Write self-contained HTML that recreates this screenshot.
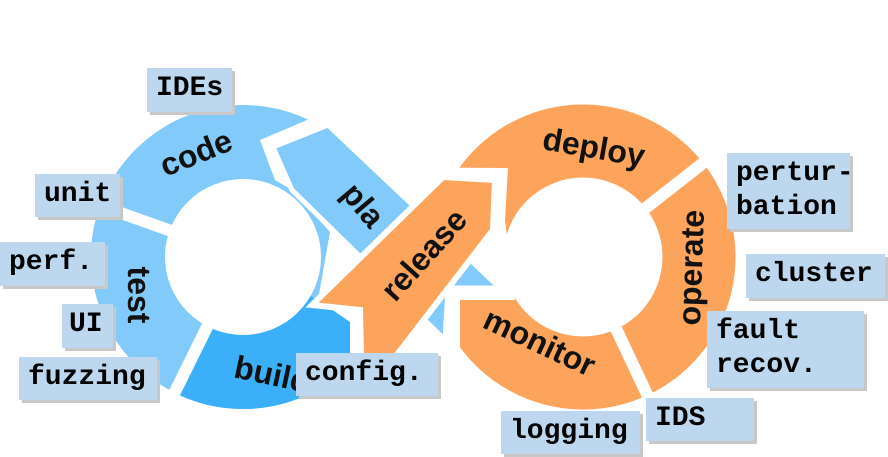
<!DOCTYPE html>
<html><head><style>
body{margin:0;width:888px;height:457px;background:#fff;position:relative;overflow:hidden}
svg{position:absolute;left:0;top:0}
.l{position:absolute;background:#bdd7ee;box-shadow:3px 3px 0 #c8c8c8;font-family:"Liberation Mono",monospace;font-weight:bold;font-size:28px;color:#000;line-height:34px;padding:4px 9px;box-sizing:border-box;white-space:nowrap}
</style></head><body>
<svg width="888" height="457" viewBox="0 0 888 457">
<defs>
<clipPath id="cl"><polygon points="0,0 340,0 340,106 260,140 275,180 292,190 330,232 318,300 350,322 350,457 0,457"/></clipPath>
<clipPath id="cr"><polygon points="0,0 888,0 888,457 460,457 460,300 515,300 505,220 508,168 0,165"/></clipPath>
</defs>
<g fill="none" clip-path="url(#cl)">
<circle cx="243" cy="257" r="115" stroke="#82cafa" stroke-width="74"/>
<path d="M342.6,314.5 A115,115 0 0 1 190.8,359.5" stroke="#3bb0f8" stroke-width="74"/>
<line x1="177" y1="233" x2="90" y2="202" stroke="#fff" stroke-width="12"/>
<line x1="211" y1="319" x2="170" y2="402" stroke="#fff" stroke-width="12"/>
</g>
<polygon points="273,147 328,125 500,288 448,288 445,340 292,190" fill="#82cafa" stroke="#fff" stroke-width="5"/>
<g fill="none" clip-path="url(#cr)">
<circle cx="583" cy="257" r="116" stroke="#fca35c" stroke-width="73"/>
<line x1="638" y1="214" x2="712" y2="156" stroke="#fff" stroke-width="12"/>
<line x1="612" y1="320" x2="652" y2="405" stroke="#fff" stroke-width="12"/>
</g>
<polygon points="312,305 360,310 362,400 493,230 495,180 443,177" fill="#fca35c" stroke="#fff" stroke-width="6"/>
<g font-family="Liberation Sans,sans-serif" font-weight="bold" font-size="32" fill="#111" text-anchor="middle">
<text transform="translate(200,163) rotate(-22)">code</text>
<text transform="translate(128,295) rotate(90)">test</text>
<text transform="translate(270,385) rotate(12)">build</text>
<text transform="translate(355,212) rotate(50)">pla</text>
<text transform="translate(432,262) rotate(-48)">release</text>
<text transform="translate(592,158) rotate(10)">deploy</text>
<text transform="translate(702,268) rotate(-88)">operate</text>
<text transform="translate(535,352) rotate(25)">monitor</text>
</g>
</svg>
<div class="l" style="left:147px;top:68px;width:85px;height:44px">IDEs</div>
<div class="l" style="left:35px;top:174px;width:85px;height:43px">unit</div>
<div class="l" style="left:0px;top:242px;width:105px;height:44px">perf.</div>
<div class="l" style="left:62px;top:304px;width:51px;height:44px;padding-left:7px">UI</div>
<div class="l" style="left:19px;top:357px;width:138px;height:43px">fuzzing</div>
<div class="l" style="left:296px;top:353px;width:142px;height:43px">config.</div>
<div class="l" style="left:727px;top:153px;width:123px;height:76px">pertur-<br>bation</div>
<div class="l" style="left:746px;top:254px;width:139px;height:44px">cluster</div>
<div class="l" style="left:707px;top:311px;width:157px;height:77px">fault<br>recov.</div>
<div class="l" style="left:646px;top:398px;width:108px;height:43px">IDS</div>
<div class="l" style="left:501px;top:411px;width:139px;height:43px">logging</div>
</body></html>
